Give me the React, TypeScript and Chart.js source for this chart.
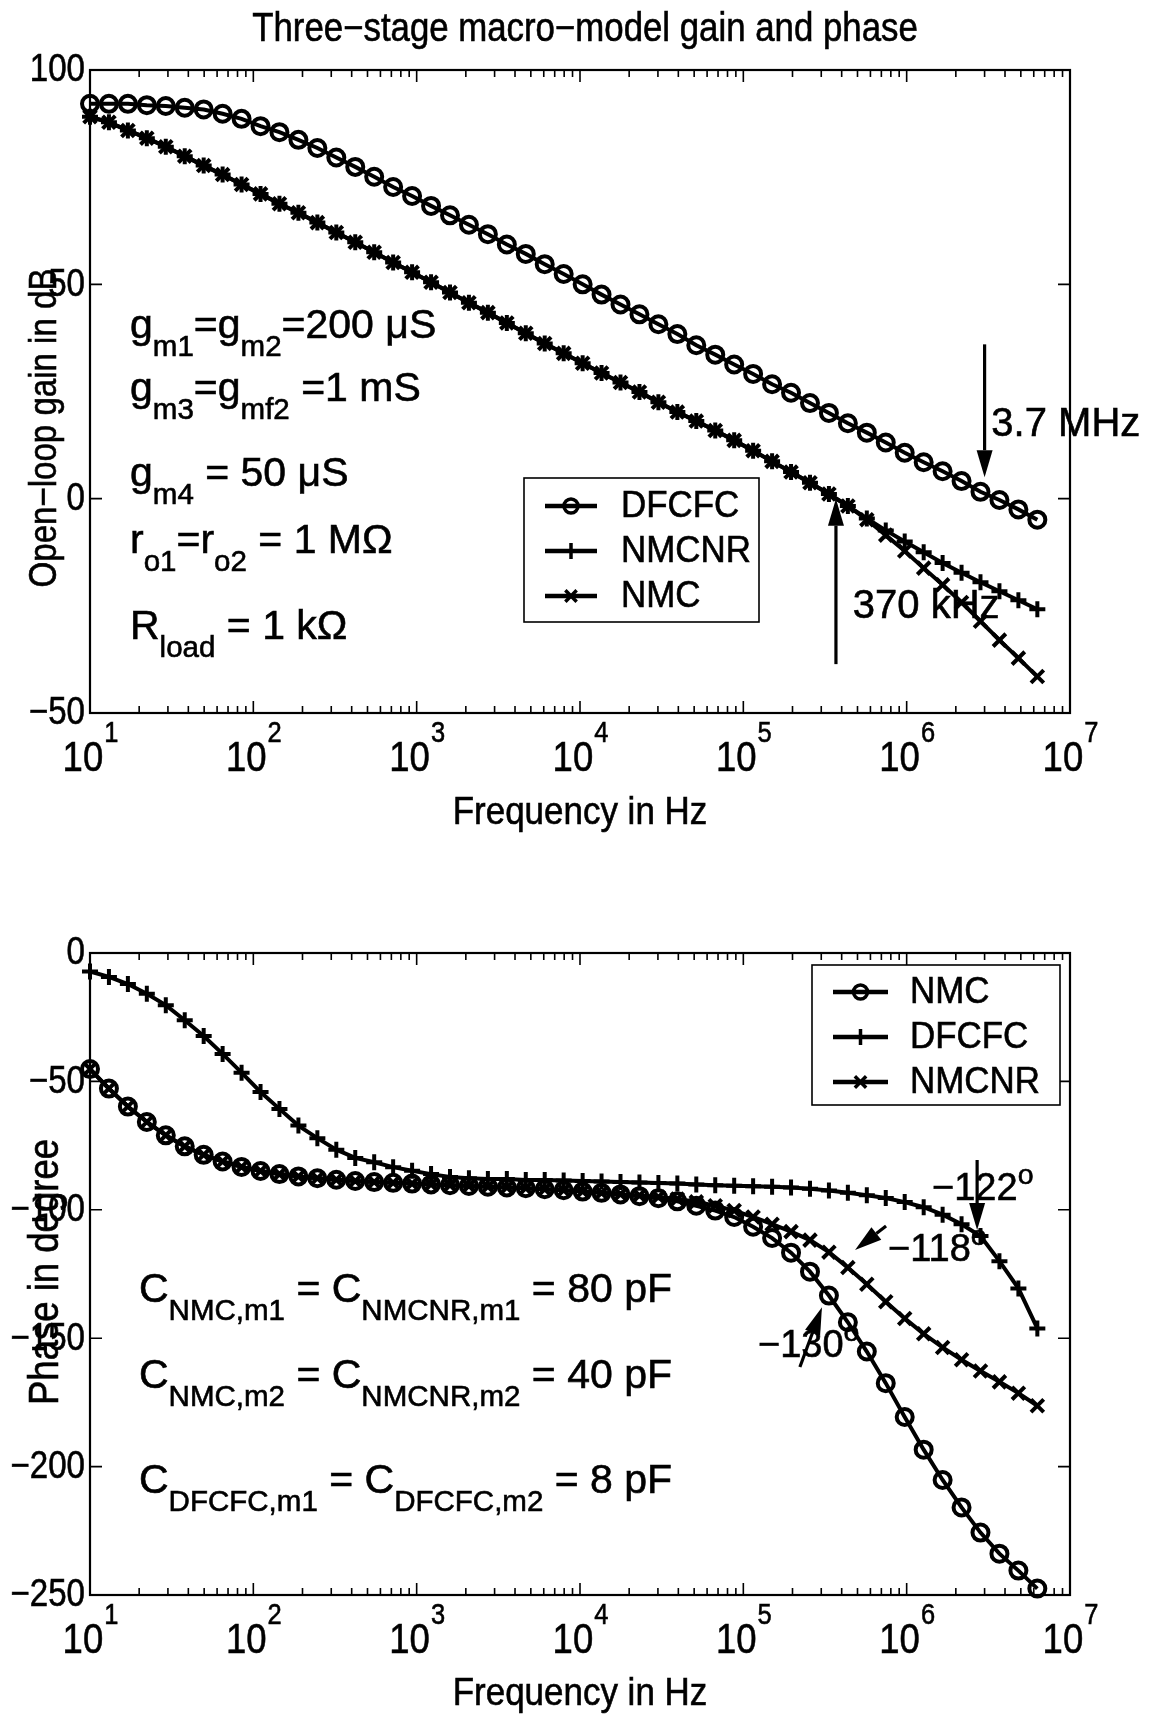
import React, { useEffect, useRef } from "react";
import { Chart, registerables } from "chart.js";

Chart.register(...registerables);

// ---------------- DATA ----------------
const freqHz = [
  10, 13.06, 17.06, 22.28, 29.11, 38.02, 49.66, 64.86, 84.72, 110.7,
  144.5, 188.8, 246.6, 322.1, 420.7, 549.5, 717.8, 937.6, 1225, 1600,
  2089, 2729, 3565, 4656, 6081, 7943, 10380, 13550, 17700, 23120,
  30200, 39450, 51520, 67300, 87900, 114800, 150000, 195900, 255900, 334200,
  436500, 570200, 744700, 972800, 1271000, 1660000, 2168000, 2831000, 3698000, 4831000,
  6310000,
];

const gainDFCFC = [
  92.1, 92.1, 92.1, 91.8, 91.6, 91.2, 90.8, 89.8, 88.6, 86.9,
  85.5, 83.7, 81.8, 79.6, 77.4, 75.1, 72.7, 70.6, 68.3, 66.1,
  63.9, 61.7, 59.3, 57.1, 54.7, 52.4, 50.0, 47.6, 45.3, 43.0,
  40.7, 38.4, 35.8, 33.6, 31.3, 29.1, 26.7, 24.7, 22.3, 20.0,
  17.6, 15.4, 13.1, 10.7, 8.5, 6.4, 4.1, 1.6, -0.3, -2.5,
  -4.9,
];

const gainNMCNR = [
  89.1, 87.8, 85.9, 84.1, 82.1, 79.9, 77.7, 75.6, 73.3, 71.1,
  68.8, 66.7, 64.4, 62.1, 59.8, 57.5, 55.1, 52.8, 50.5, 48.1,
  45.7, 43.4, 41.0, 38.6, 36.2, 33.9, 31.6, 29.3, 27.1, 24.9,
  22.5, 20.2, 18.1, 15.9, 13.6, 11.2, 8.7, 6.2, 3.7, 1.1,
  -1.7, -4.6, -7.4, -10.0, -12.5, -15.0, -17.3, -19.5, -21.6, -23.7,
  -25.8,
];

const gainNMC = [
  89.1, 87.8, 85.9, 84.1, 82.1, 79.9, 77.7, 75.6, 73.3, 71.1,
  68.8, 66.7, 64.4, 62.1, 59.8, 57.5, 55.1, 52.8, 50.5, 48.1,
  45.7, 43.4, 41.0, 38.6, 36.2, 33.9, 31.6, 29.3, 27.1, 24.9,
  22.5, 20.2, 18.1, 15.9, 13.6, 11.2, 8.7, 6.2, 3.7, 1.1,
  -1.7, -4.9, -8.5, -12.2, -16.2, -20.1, -24.2, -28.6, -33.0, -37.2,
  -41.5,
];

const phaseNMC = [
  -45.2, -52.8, -59.8, -65.8, -71.0, -75.3, -78.6, -81.2, -83.3, -84.9,
  -86.1, -87.0, -87.7, -88.3, -88.8, -89.2, -89.5, -89.8, -90.1, -90.4,
  -90.7, -91.0, -91.3, -91.6, -92.0, -92.4, -92.9, -93.4, -94.0, -94.7,
  -95.5, -96.7, -98.4, -100.3, -102.8, -106.6, -111.0, -116.7, -124.1, -133.4,
  -143.8, -155.2, -167.5, -180.7, -193.4, -205.2, -215.9, -225.7, -233.9, -240.5,
  -247.5,
];

const phaseDFCFC = [
  -7.2, -9.3, -12.1, -15.9, -20.3, -26.2, -32.3, -39.3, -46.6, -54.1,
  -60.7, -67.2, -72.1, -76.6, -79.8, -81.5, -83.4, -84.8, -86.1, -87.2,
  -87.7, -88.0, -88.0, -88.4, -88.4, -88.6, -88.8, -89.0, -89.2, -89.4,
  -89.6, -89.8, -90.1, -90.4, -90.6, -90.8, -91.0, -91.3, -91.8, -92.5,
  -93.4, -94.3, -95.4, -97.0, -99.0, -101.9, -105.6, -110.2, -120.0, -130.6,
  -146.2,
];

const phaseNMCNR = [
  -45.2, -52.8, -59.8, -65.8, -71.0, -75.3, -78.6, -81.2, -83.3, -84.9,
  -86.1, -87.0, -87.7, -88.3, -88.8, -89.2, -89.5, -89.8, -90.1, -90.4,
  -90.7, -91.0, -91.3, -91.6, -92.0, -92.4, -92.9, -93.4, -93.9, -94.4,
  -95.0, -95.8, -96.9, -98.4, -100.3, -102.8, -105.6, -108.5, -111.8, -116.5,
  -122.5, -129.0, -135.8, -142.3, -148.3, -153.6, -158.4, -162.8, -167.0, -171.4,
  -176.3,
];

const xTickExponents = [1, 2, 3, 4, 5, 6, 7];
const gainTicks = [100, 50, 0, -50];
const phaseTicks = [0, -50, -100, -150, -200, -250];

const gainNotes = [
  "g_{m1}=g_{m2}=200 μS",
  "g_{m3}=g_{mf2} =1 mS",
  "g_{m4} = 50 μS",
  "r_{o1}=r_{o2} = 1 MΩ",
  "R_{load} = 1 kΩ",
];
const phaseNotes = [
  "C_{NMC,m1} = C_{NMCNR,m1} = 80 pF",
  "C_{NMC,m2} = C_{NMCNR,m2} = 40 pF",
  "C_{DFCFC,m1} = C_{DFCFC,m2} = 8 pF",
];

// ---------------- DRAWING HELPERS ----------------
const W = 1151;
const FONT = '"Liberation Sans", Arial, Helvetica, sans-serif';
const TEXT_STROKE = 0.6;

type Seg = { t: string; k: "" | "sub" | "sup" };

function parseRich(s: string): Seg[] {
  const segs: Seg[] = [];
  let i = 0;
  let buf = "";
  while (i < s.length) {
    const c = s[i];
    if ((c === "_" || c === "^") && s[i + 1] === "{") {
      if (buf) {
        segs.push({ t: buf, k: "" });
        buf = "";
      }
      const end = s.indexOf("}", i);
      segs.push({ t: s.slice(i + 2, end), k: c === "_" ? "sub" : "sup" });
      i = end + 1;
    } else {
      buf += c;
      i++;
    }
  }
  if (buf) segs.push({ t: buf, k: "" });
  return segs;
}

function fillBold(ctx: CanvasRenderingContext2D, s: string, x: number, y: number) {
  ctx.fillText(s, x, y);
  ctx.lineWidth = TEXT_STROKE;
  ctx.strokeText(s, x, y);
}

// text with horizontal compression sx
function txt(
  ctx: CanvasRenderingContext2D,
  s: string,
  x: number,
  y: number,
  size: number,
  sx: number,
  align: "left" | "center" | "right" = "left",
  baseline: CanvasTextBaseline = "alphabetic"
) {
  ctx.save();
  ctx.font = `${size}px ${FONT}`;
  ctx.textAlign = align;
  ctx.textBaseline = baseline;
  ctx.translate(x, y);
  ctx.scale(sx, 1);
  fillBold(ctx, s, 0, 0);
  ctx.restore();
}

function drawRich(ctx: CanvasRenderingContext2D, s: string, x: number, y: number, size: number, ratio = 0.72) {
  const segs = parseRich(s);
  const small = size * ratio;
  ctx.textBaseline = "alphabetic";
  ctx.textAlign = "left";
  let cx = x;
  for (const seg of segs) {
    const sz = seg.k ? small : size;
    ctx.font = `${sz}px ${FONT}`;
    const dy = seg.k === "sub" ? size * 0.43 : seg.k === "sup" ? -size * 0.42 : 0;
    fillBold(ctx, seg.t, cx, y + dy);
    cx += ctx.measureText(seg.t).width;
  }
}

function drawMarker(ctx: CanvasRenderingContext2D, style: string, x: number, y: number, r: number) {
  ctx.beginPath();
  if (style === "circle") {
    ctx.arc(x, y, r, 0, Math.PI * 2);
  } else if (style === "cross") {
    ctx.moveTo(x - r, y);
    ctx.lineTo(x + r, y);
    ctx.moveTo(x, y - r);
    ctx.lineTo(x, y + r);
  } else {
    const d = r * 0.7071;
    ctx.moveTo(x - d, y - d);
    ctx.lineTo(x + d, y + d);
    ctx.moveTo(x - d, y + d);
    ctx.lineTo(x + d, y - d);
  }
  ctx.stroke();
}

function drawArrow(ctx: CanvasRenderingContext2D, x1: number, y1: number, x2: number, y2: number) {
  const ang = Math.atan2(y2 - y1, x2 - x1);
  const hl = 27;
  const hw = 8;
  const bx = x2 - hl * Math.cos(ang);
  const by = y2 - hl * Math.sin(ang);
  ctx.lineWidth = 3.2;
  ctx.beginPath();
  ctx.moveTo(x1, y1);
  ctx.lineTo(bx, by);
  ctx.stroke();
  ctx.beginPath();
  ctx.moveTo(x2, y2);
  ctx.lineTo(bx + hw * Math.sin(ang), by - hw * Math.cos(ang));
  ctx.lineTo(bx - hw * Math.sin(ang), by + hw * Math.cos(ang));
  ctx.closePath();
  ctx.fill();
}

type LegendCfg = {
  box: [number, number, number, number];
  items: { label: string; style: string; r: number }[];
  lineX: [number, number];
  textX: number;
  rowY: number[];
};

type Cfg = {
  yTicks: number[];
  title?: { text: string; x: number; y: number };
  xLabelY: number;
  yLabel: { text: string; x: number; y: number; size: number };
  legend: LegendCfg;
  notes: { lines: string[]; x: number; ys: number[] };
  arrows: { from: [number, number]; to: [number, number] }[];
  labels: { text: string; at: [number, number]; size: number }[];
};

function fmtTick(v: number) {
  return v < 0 ? "−" + Math.abs(v) : String(v);
}

function makeFramePlugin(cfg: Cfg) {
  return {
    id: "frame",
    beforeDraw(chart: any) {
      const ctx = chart.ctx;
      ctx.save();
      ctx.fillStyle = "#fff";
      ctx.fillRect(0, 0, chart.width, chart.height);
      ctx.restore();
    },
    afterDraw(chart: any) {
      const ctx: CanvasRenderingContext2D = chart.ctx;
      const { left, right, top, bottom } = chart.chartArea;
      const xs = chart.scales.x;
      const ys = chart.scales.y;
      const px = (f: number) => xs.getPixelForValue(f);
      const py = (v: number) => ys.getPixelForValue(v);
      ctx.save();
      ctx.strokeStyle = "#000";
      ctx.fillStyle = "#000";

      // ticks (inward, all four sides)
      ctx.lineWidth = 1.6;
      ctx.beginPath();
      for (const d of xTickExponents) {
        const x = px(Math.pow(10, d));
        ctx.moveTo(x, bottom);
        ctx.lineTo(x, bottom - 12);
        ctx.moveTo(x, top);
        ctx.lineTo(x, top + 12);
        if (d < 7) {
          for (let m = 2; m <= 9; m++) {
            const xm = px(m * Math.pow(10, d));
            ctx.moveTo(xm, bottom);
            ctx.lineTo(xm, bottom - 7);
            ctx.moveTo(xm, top);
            ctx.lineTo(xm, top + 7);
          }
        }
      }
      for (const v of cfg.yTicks) {
        const y = py(v);
        ctx.moveTo(left, y);
        ctx.lineTo(left + 12, y);
        ctx.moveTo(right, y);
        ctx.lineTo(right - 12, y);
      }
      ctx.stroke();

      // box
      ctx.lineWidth = 2.2;
      ctx.strokeRect(left, top, right - left, bottom - top);

      // y tick labels
      for (const v of cfg.yTicks) {
        txt(ctx, fmtTick(v), left - 5, py(v) + 1, 38, 0.87, "right", "middle");
      }

      // x tick labels 10^d
      const mainSz = 43;
      const expSz = 30;
      const sx = 0.85;
      for (const d of xTickExponents) {
        const x = px(Math.pow(10, d));
        ctx.font = `${mainSz}px ${FONT}`;
        const w1 = ctx.measureText("10").width * sx;
        ctx.font = `${expSz}px ${FONT}`;
        const w2 = ctx.measureText(String(d)).width * sx;
        const x0 = x - (w1 + w2) / 2;
        txt(ctx, "10", x0, bottom + 58, mainSz, sx);
        txt(ctx, String(d), x0 + w1 + 1, bottom + 29, expSz, sx);
      }

      // x label
      txt(ctx, "Frequency in Hz", (left + right) / 2, cfg.xLabelY, 38, 0.92, "center");

      // title
      if (cfg.title) {
        txt(ctx, cfg.title.text, cfg.title.x, cfg.title.y, 40, 0.87, "center");
      }

      // y label (rotated)
      ctx.save();
      ctx.translate(cfg.yLabel.x, cfg.yLabel.y);
      ctx.rotate(-Math.PI / 2);
      txt(ctx, cfg.yLabel.text, 0, 0, cfg.yLabel.size, 0.87, "center", "middle");
      ctx.restore();

      // notes
      cfg.notes.lines.forEach((ln, i) => drawRich(ctx, ln, cfg.notes.x, cfg.notes.ys[i], 41));

      // arrows
      ctx.fillStyle = "#000";
      for (const a of cfg.arrows) {
        drawArrow(ctx, px(a.from[0]), py(a.from[1]), px(a.to[0]), py(a.to[1]));
      }
      for (const l of cfg.labels) {
        drawRich(ctx, l.text, px(l.at[0]), py(l.at[1]), l.size, 0.75);
      }

      // legend
      const lg = cfg.legend;
      ctx.fillStyle = "#fff";
      ctx.fillRect(lg.box[0], lg.box[1], lg.box[2], lg.box[3]);
      ctx.lineWidth = 1.6;
      ctx.strokeRect(lg.box[0], lg.box[1], lg.box[2], lg.box[3]);
      ctx.fillStyle = "#000";
      lg.items.forEach((it, i) => {
        const y = lg.rowY[i];
        ctx.lineWidth = 4.5;
        ctx.beginPath();
        ctx.moveTo(lg.lineX[0], y);
        ctx.lineTo(lg.lineX[1], y);
        ctx.stroke();
        ctx.lineWidth = 3.5;
        drawMarker(ctx, it.style, (lg.lineX[0] + lg.lineX[1]) / 2, y, it.r);
        txt(ctx, it.label, lg.textX, y + 1, 36, 0.97, "left", "middle");
      });

      ctx.restore();
    },
  };
}

function series(label: string, values: number[], style: string, r: number) {
  return {
    label,
    data: freqHz.map((f, i) => ({ x: f, y: values[i] })),
    borderColor: "#000",
    borderWidth: 4,
    pointStyle: style,
    pointRadius: r,
    pointBorderWidth: 4,
    pointBorderColor: "#000",
    pointBackgroundColor: "rgba(0,0,0,0)",
    fill: false,
    tension: 0,
    clip: false as any,
  };
}

function makeConfig(datasets: any[], yMin: number, yMax: number, padding: any, cfg: Cfg) {
  return {
    type: "line" as const,
    data: { datasets },
    options: {
      responsive: false,
      animation: false as const,
      devicePixelRatio: 1,
      events: [],
      layout: { padding },
      plugins: { legend: { display: false }, title: { display: false }, tooltip: { enabled: false } },
      scales: {
        x: { type: "logarithmic" as const, min: 10, max: 1e7, display: false },
        y: { type: "linear" as const, min: yMin, max: yMax, display: false },
      },
    },
    plugins: [makeFramePlugin(cfg)],
  };
}

const TOP_H = 860;
const BOT_H = 859;

export default function App() {
  const topRef = useRef<HTMLCanvasElement>(null);
  const botRef = useRef<HTMLCanvasElement>(null);

  useEffect(() => {
    const topCfg: Cfg = {
      yTicks: gainTicks,
      title: { text: "Three−stage macro−model gain and phase", x: 585, y: 41 },
      xLabelY: 824,
      yLabel: { text: "Open−loop gain in dB", x: 46, y: 428, size: 38 },
      legend: {
        box: [524, 478, 235, 144],
        items: [
          { label: "DFCFC", style: "circle", r: 7 },
          { label: "NMCNR", style: "cross", r: 8 },
          { label: "NMC", style: "crossRot", r: 8 },
        ],
        lineX: [545, 597],
        textX: 621,
        rowY: [506, 551, 596],
      },
      notes: { lines: gainNotes, x: 130, ys: [338, 401, 486, 553, 639] },
      arrows: [
        { from: [3.0e6, 36], to: [3.0e6, 5.0] },
        { from: [3.69e5, -38.6], to: [3.69e5, 0] },
      ],
      labels: [
        { text: "3.7 MHz", at: [3.3e6, 14.7], size: 40 },
        { text: "370 kHz", at: [4.68e5, -27.9], size: 40 },
      ],
    };
    const botCfg: Cfg = {
      yTicks: phaseTicks,
      xLabelY: 845,
      yLabel: { text: "Phase in degree", x: 46, y: 412, size: 42 },
      legend: {
        box: [812, 105, 248, 140],
        items: [
          { label: "NMC", style: "circle", r: 7 },
          { label: "DFCFC", style: "cross", r: 8 },
          { label: "NMCNR", style: "crossRot", r: 8 },
        ],
        lineX: [833, 888],
        textX: 910,
        rowY: [132, 177, 222],
      },
      notes: { lines: phaseNotes, x: 139, ys: [442, 528, 633] },
      arrows: [
        { from: [2.7e6, -80.6], to: [2.7e6, -107.9] },
        { from: [7.48e5, -106.3], to: [4.83e5, -115.7] },
        { from: [2.22e5, -161.2], to: [3.03e5, -137.9] },
      ],
      labels: [
        { text: "−122^{o}", at: [1.43e6, -96.2], size: 38 },
        { text: "−118^{o}", at: [7.69e5, -119.9], size: 38 },
        { text: "−130^{o}", at: [1.23e5, -157.3], size: 38 },
      ],
    };

    const top = new Chart(
      topRef.current!,
      makeConfig(
        [
          series("DFCFC", gainDFCFC, "circle", 8),
          series("NMCNR", gainNMCNR, "cross", 8),
          series("NMC", gainNMC, "crossRot", 9),
        ],
        -50,
        100,
        { left: 90, right: W - 1070, top: 70, bottom: TOP_H - 713 },
        topCfg
      ) as any
    );
    const bot = new Chart(
      botRef.current!,
      makeConfig(
        [
          series("NMC", phaseNMC, "circle", 8),
          series("DFCFC", phaseDFCFC, "cross", 8),
          series("NMCNR", phaseNMCNR, "crossRot", 9),
        ],
        -250,
        0,
        { left: 90, right: W - 1070, top: 953 - TOP_H, bottom: TOP_H + BOT_H - 1595 },
        botCfg
      ) as any
    );
    return () => {
      top.destroy();
      bot.destroy();
    };
  }, []);

  return (
    <div style={{ position: "absolute", left: 0, top: 0, width: W, height: TOP_H + BOT_H, background: "#fff" }}>
      <canvas
        ref={topRef}
        width={W}
        height={TOP_H}
        style={{ position: "absolute", left: 0, top: 0, width: W, height: TOP_H, display: "block" }}
      />
      <canvas
        ref={botRef}
        width={W}
        height={BOT_H}
        style={{ position: "absolute", left: 0, top: TOP_H, width: W, height: BOT_H, display: "block" }}
      />
    </div>
  );
}
